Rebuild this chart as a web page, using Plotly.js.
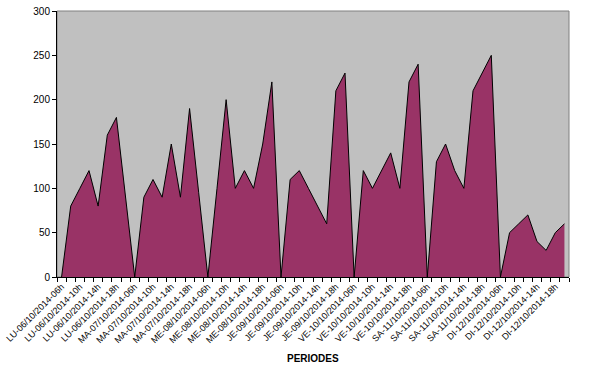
<!DOCTYPE html>
<html>
<head>
<meta charset="utf-8">
<script src="https://cdn.plot.ly/plotly-3.0.1.min.js"></script>
<style>html,body{margin:0;padding:0;background:#fff;}#chart{width:593px;height:374px;}</style>
</head>
<body>
<div id="chart"></div>
<script>
var days = ["LU-06/10/2014","MA-07/10/2014","ME-08/10/2014","JE-09/10/2014","VE-10/10/2014","SA-11/10/2014","DI-12/10/2014"];
var hours = ["06h","08h","10h","12h","14h","16h","18h","20h"];
var labelHours = ["06h","10h","14h","18h"];
var valuesLU = [0, 80, 100, 120, 80, 160, 180, 90];
var valuesMA = [0, 90, 110, 90, 150, 90, 190, 95];
var valuesME = [0, 100, 200, 100, 120, 100, 150, 220];
var valuesJE = [0, 110, 120, 100, 80, 60, 210, 230];
var valuesVE = [0, 120, 100, 120, 140, 100, 220, 240];
var valuesSA = [0, 130, 150, 120, 100, 210, 230, 250];
var valuesDI = [0, 50, 60, 70, 40, 30, 50, 60];
var yTicks = [0, 50, 100, 150, 200, 250, 300];

var categories = [];
var tickText = [];
days.forEach(function(d){
  hours.forEach(function(h){
    categories.push(d + "-" + h);
    tickText.push(labelHours.indexOf(h) >= 0 ? d + "-" + h : "");
  });
});
var values = [].concat(valuesLU, valuesMA, valuesME, valuesJE, valuesVE, valuesSA, valuesDI);

var font = "Arial, 'Liberation Sans', sans-serif";
var trace = {
  x: categories, y: values, type: "scatter", mode: "lines",
  fill: "tozeroy", fillcolor: "#993366",
  line: {color: "#000000", width: 1}, hoverinfo: "skip"
};
var layout = {
  width: 593, height: 374,
  margin: {l: 57, r: 24, t: 11, b: 97},
  paper_bgcolor: "#ffffff", plot_bgcolor: "#c0c0c0",
  showlegend: false,
  xaxis: {
    type: "category", range: [-0.5, categories.length - 0.5],
    tickvals: categories, ticktext: tickText, tickson: "boundaries",
    ticks: "outside", ticklen: 4, tickcolor: "#000", tickwidth: 1,
    tickangle: -45, tickfont: {family: font, size: 9, color: "#000"},
    showgrid: false, showline: true, linecolor: "#000", linewidth: 1,
    zeroline: false, fixedrange: true
  },
  yaxis: {
    range: [0, 300], tickvals: yTicks,
    ticks: "outside", ticklen: 4, tickcolor: "#000", tickwidth: 1,
    tickfont: {family: font, size: 10, color: "#000"},
    showgrid: false, showline: true, linecolor: "#000", linewidth: 1,
    zeroline: false, fixedrange: true
  },
  shapes: [{type: "rect", xref: "paper", yref: "paper", x0: 0, x1: 1, y0: 0, y1: 1,
            line: {color: "#808080", width: 1}, fillcolor: "rgba(0,0,0,0)", layer: "below"}],
  annotations: [{text: "<b>PERIODES</b>", xref: "paper", yref: "paper", x: 0.5, y: -0.305,
                 xanchor: "center", yanchor: "middle", showarrow: false,
                 font: {family: font, size: 10, color: "#000"}}]
};
Plotly.newPlot("chart", [trace], layout, {staticPlot: true, displayModeBar: false});
</script>
</body>
</html>
